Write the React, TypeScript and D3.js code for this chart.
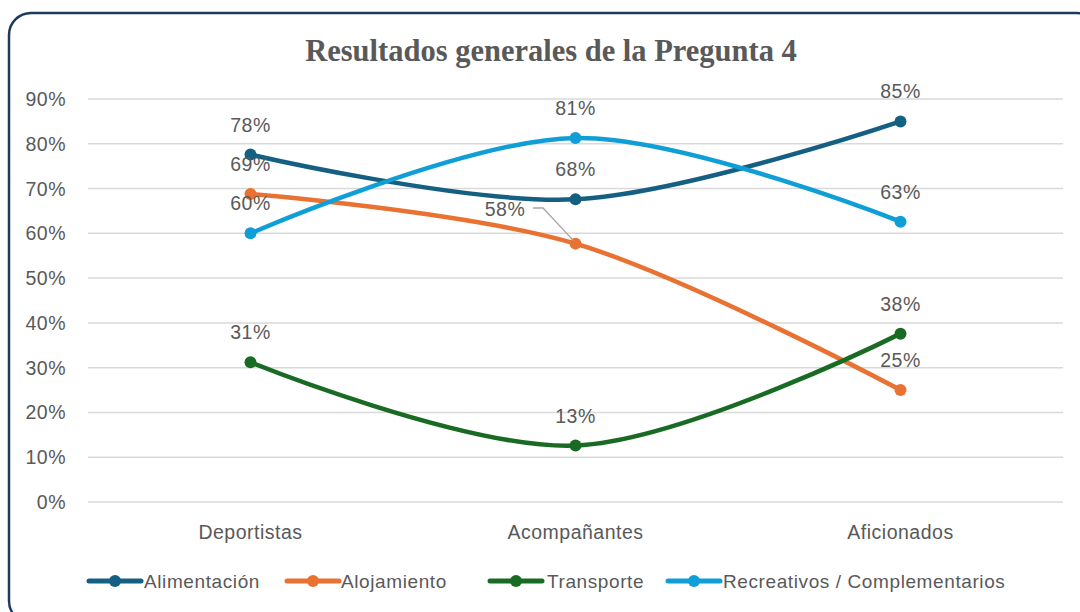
import React from "react";
import * as d3 from "d3";

const categories = ["Deportistas", "Acompañantes", "Aficionados"];
const seriesNames = ["Alimentación", "Alojamiento", "Transporte", "Recreativos / Complementarios"];
const alimentacion = [0.776, 0.676, 0.85];
const alojamiento = [0.688, 0.577, 0.25];
const transporte = [0.312, 0.126, 0.376];
const recreativos = [0.6, 0.813, 0.626];
const seriesColors = ["#156082", "#E97132", "#196B24", "#0F9ED5"];
const yTicks = [0, 0.1, 0.2, 0.3, 0.4, 0.5, 0.6, 0.7, 0.8, 0.9];
const title = "Resultados generales de la Pregunta 4";

const W = 1080;
const H = 612;

export default function App() {
  const series = [alimentacion, alojamiento, transporte, recreativos];
  const x = d3.scalePoint<string>().domain(categories).range([88, 1063]).padding(0.5);
  const y = d3.scaleLinear().domain([0, 0.9]).range([502, 99]);
  const line = d3
    .line<number>()
    .x((_, i) => x(categories[i]) as number)
    .y((d) => y(d))
    .curve(d3.curveCatmullRom.alpha(0.5));
  const fmt = d3.format(".0%");
  const sans = "'Liberation Sans', Arial, sans-serif";
  const legendLineX = [89, 287, 490, 668];
  const legendTextX = [144, 341, 547, 723];
  const labelGray = "#595959";

  const leadPt = { x: x(categories[1]) as number, y: y(alojamiento[1]) };

  return (
    <svg width={W} height={H} style={{ position: "absolute", left: 0, top: 0, background: "#fff" }}>
      <rect x={9} y={13} width={1090} height={610} rx={22} ry={22} fill="#fff" stroke="#1E3A5A" strokeWidth={2.5} />
      <text x={551} y={61} textAnchor="middle" fontFamily="'Liberation Serif', 'Times New Roman', serif" fontWeight="bold" fontSize={30.5} fill={labelGray}>
        {title}
      </text>
      {yTicks.map((t) => (
        <g key={t}>
          <line x1={88} x2={1063} y1={y(t)} y2={y(t)} stroke="#D9D9D9" strokeWidth={1.5} />
          <text x={66} y={y(t)} dy="0.36em" textAnchor="end" fontFamily={sans} fontSize={19.5} letterSpacing={0.5} fill={labelGray}>
            {fmt(t)}
          </text>
        </g>
      ))}
      {categories.map((c) => (
        <text key={c} x={x(c)} y={532} dy="0.36em" textAnchor="middle" fontFamily={sans} fontSize={19.5} letterSpacing={0.5} fill={labelGray}>
          {c}
        </text>
      ))}
      {series.map((s, si) => (
        <g key={si}>
          <path d={line(s) || ""} fill="none" stroke={seriesColors[si]} strokeWidth={4.5} strokeLinecap="round" />
          {s.map((v, i) => (
            <circle key={i} cx={x(categories[i])} cy={y(v)} r={6} fill={seriesColors[si]} />
          ))}
        </g>
      ))}
      <polyline
        points={`533,208 543,208 ${leadPt.x - 2},${leadPt.y - 3}`}
        fill="none"
        stroke="#A6A6A6"
        strokeWidth={1.3}
      />
      {series.map((s, si) =>
        s.map((v, i) => {
          const px = x(categories[i]) as number;
          const py = y(v);
          const isLead = si === 1 && i === 1;
          return (
            <text
              key={`${si}-${i}`}
              x={isLead ? 505 : px}
              y={isLead ? 209 : py - 30}
              dy="0.36em"
              textAnchor="middle"
              fontFamily={sans}
              fontSize={19.5}
              letterSpacing={0.5}
              fill={labelGray}
            >
              {fmt(v)}
            </text>
          );
        })
      )}
      {seriesNames.map((n, i) => (
        <g key={n}>
          <line x1={legendLineX[i]} x2={legendLineX[i] + 52} y1={581} y2={581} stroke={seriesColors[i]} strokeWidth={5} strokeLinecap="round" />
          <circle cx={legendLineX[i] + 26} cy={581} r={6} fill={seriesColors[i]} />
          <text x={legendTextX[i]} y={581} dy="0.36em" fontFamily={sans} fontSize={19} letterSpacing={0.6} fill={labelGray}>
            {n}
          </text>
        </g>
      ))}
    </svg>
  );
}
